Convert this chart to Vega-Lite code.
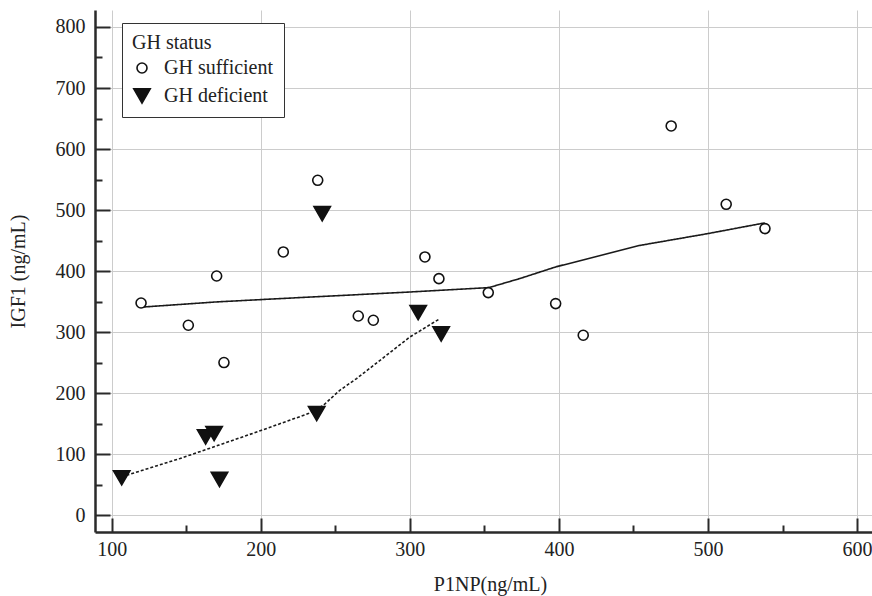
{
  "$schema": "https://vega.github.io/schema/vega-lite/v6.json",
  "width": 777,
  "height": 522,
  "autosize": {"type": "none"},
  "padding": {"left": 95, "top": 10, "right": 0, "bottom": 64},
  "background": "white",
  "config": {
    "view": {"stroke": null},
    "font": "Liberation Serif",
    "axis": {
      "domainColor": "#2a2a2a",
      "domainWidth": 2.5,
      "tickColor": "#2a2a2a",
      "tickWidth": 2,
      "gridColor": "#cccccc",
      "gridWidth": 1,
      "labelFont": "Liberation Serif",
      "labelFontSize": 20,
      "labelColor": "#222222",
      "titleFont": "Liberation Serif",
      "titleFontSize": 20,
      "titleFontWeight": "normal",
      "titleColor": "#222222",
      "labelOverlap": false
    }
  },
  "datasets": {
    "points": [
      {"x": 119.7, "y": 347.8, "group": "GH sufficient"},
      {"x": 151.4, "y": 311.3, "group": "GH sufficient"},
      {"x": 170.4, "y": 392.0, "group": "GH sufficient"},
      {"x": 175.3, "y": 250.2, "group": "GH sufficient"},
      {"x": 215.1, "y": 431.4, "group": "GH sufficient"},
      {"x": 238.2, "y": 548.8, "group": "GH sufficient"},
      {"x": 265.4, "y": 326.5, "group": "GH sufficient"},
      {"x": 275.5, "y": 319.5, "group": "GH sufficient"},
      {"x": 310.1, "y": 423.2, "group": "GH sufficient"},
      {"x": 319.5, "y": 387.7, "group": "GH sufficient"},
      {"x": 352.6, "y": 364.8, "group": "GH sufficient"},
      {"x": 397.8, "y": 346.8, "group": "GH sufficient"},
      {"x": 416.3, "y": 294.9, "group": "GH sufficient"},
      {"x": 475.3, "y": 637.8, "group": "GH sufficient"},
      {"x": 512.2, "y": 509.5, "group": "GH sufficient"},
      {"x": 538.2, "y": 469.7, "group": "GH sufficient"},
      {"x": 106.7, "y": 61.4, "group": "GH deficient"},
      {"x": 172.3, "y": 58.7, "group": "GH deficient"},
      {"x": 163.0, "y": 128.3, "group": "GH deficient"},
      {"x": 168.7, "y": 133.8, "group": "GH deficient"},
      {"x": 237.5, "y": 166.6, "group": "GH deficient"},
      {"x": 241.2, "y": 494.0, "group": "GH deficient"},
      {"x": 305.6, "y": 332.0, "group": "GH deficient"},
      {"x": 321.0, "y": 297.0, "group": "GH deficient"}
    ],
    "smooth": [
      {"x": 120.0, "y": 341.0, "group": "GH sufficient"},
      {"x": 170.0, "y": 349.5, "group": "GH sufficient"},
      {"x": 213.0, "y": 355.0, "group": "GH sufficient"},
      {"x": 300.0, "y": 365.8, "group": "GH sufficient"},
      {"x": 353.0, "y": 373.0, "group": "GH sufficient"},
      {"x": 374.0, "y": 388.0, "group": "GH sufficient"},
      {"x": 398.0, "y": 407.0, "group": "GH sufficient"},
      {"x": 454.0, "y": 442.0, "group": "GH sufficient"},
      {"x": 500.0, "y": 461.5, "group": "GH sufficient"},
      {"x": 538.0, "y": 479.0, "group": "GH sufficient"},
      {"x": 106.7, "y": 63.0, "group": "GH deficient"},
      {"x": 145.8, "y": 93.0, "group": "GH deficient"},
      {"x": 172.0, "y": 115.0, "group": "GH deficient"},
      {"x": 200.6, "y": 139.3, "group": "GH deficient"},
      {"x": 231.9, "y": 166.6, "group": "GH deficient"},
      {"x": 241.9, "y": 180.0, "group": "GH deficient"},
      {"x": 253.0, "y": 204.8, "group": "GH deficient"},
      {"x": 264.3, "y": 224.0, "group": "GH deficient"},
      {"x": 300.0, "y": 292.0, "group": "GH deficient"},
      {"x": 320.2, "y": 322.2, "group": "GH deficient"}
    ]
  },
  "encoding": {
    "x": {
      "field": "x",
      "type": "quantitative",
      "scale": {"domain": [88.8, 610], "nice": false, "zero": false},
      "axis": {
        "title": "P1NP(ng/mL)",
        "titleX": 395,
        "titlePadding": 8,
        "values": [100, 150, 200, 250, 300, 350, 400, 450, 500, 550, 600],
        "labelExpr": "datum.value % 100 === 0 ? datum.label : ''",
        "tickSize": {"condition": {"test": "datum.value % 100 === 0", "value": -14}, "value": -7},
        "gridOpacity": {"condition": {"test": "datum.value % 100 === 0", "value": 1}, "value": 0},
        "labelPadding": 21
      }
    },
    "y": {
      "field": "y",
      "type": "quantitative",
      "scale": {"domain": [-27.4, 827.8], "nice": false, "zero": false},
      "axis": {
        "title": "IGF1 (ng/mL)",
        "titlePadding": 27,
        "values": [0, 50, 100, 150, 200, 250, 300, 350, 400, 450, 500, 550, 600, 650, 700, 750, 800],
        "labelExpr": "datum.value % 100 === 0 ? datum.label : ''",
        "tickSize": {"condition": {"test": "datum.value % 100 === 0", "value": -15}, "value": -7},
        "gridOpacity": {"condition": {"test": "datum.value % 100 === 0", "value": 1}, "value": 0},
        "labelPadding": 25
      }
    }
  },
  "layer": [
    {
      "data": {"name": "smooth"},
      "mark": {"type": "line", "color": "#1a1a1a", "strokeWidth": 1.6},
      "encoding": {
        "detail": {"field": "group", "type": "nominal"},
        "strokeDash": {
          "field": "group",
          "type": "nominal",
          "scale": {"domain": ["GH deficient", "GH sufficient"], "range": [[3, 2], [1, 0]]},
          "legend": null
        }
      }
    },
    {
      "data": {"name": "points"},
      "mark": {"type": "point", "filled": true, "stroke": "#111111", "strokeWidth": 1.6, "opacity": 1},
      "encoding": {
        "shape": {
          "field": "group",
          "type": "nominal",
          "scale": {"domain": ["GH sufficient", "GH deficient"], "range": ["circle", "triangle-down"]},
          "legend": {
            "title": "GH status",
            "orient": "none",
            "legendX": 27,
            "legendY": 13,
            "strokeColor": "#333333",
            "fillColor": "white",
            "padding": 10,
            "titleFont": "Liberation Serif",
            "titleFontSize": 20,
            "titleFontWeight": "normal",
            "titleColor": "#222222",
            "titlePadding": 5,
            "labelFont": "Liberation Serif",
            "labelFontSize": 20,
            "labelColor": "#222222",
            "labelOffset": 12,
            "labelExpr": "datum.label + '\u00a0\u00a0\u00a0\u00a0'",
            "symbolStrokeWidth": 1.6,
            "symbolStrokeColor": "#111111",
            "rowPadding": 7
          }
        },
        "fill": {
          "field": "group",
          "type": "nominal",
          "scale": {"domain": ["GH sufficient", "GH deficient"], "range": ["white", "#111111"]},
          "legend": {"title": "GH status", "orient": "none", "legendX": 27, "legendY": 13, "labelExpr": "datum.label + '\u00a0\u00a0\u00a0\u00a0'"}
        },
        "size": {
          "field": "group",
          "type": "nominal",
          "scale": {"domain": ["GH sufficient", "GH deficient"], "range": [100, 270]},
          "legend": {"title": "GH status", "orient": "none", "legendX": 27, "legendY": 13, "labelExpr": "datum.label + '\u00a0\u00a0\u00a0\u00a0'"}
        }
      }
    }
  ]
}
